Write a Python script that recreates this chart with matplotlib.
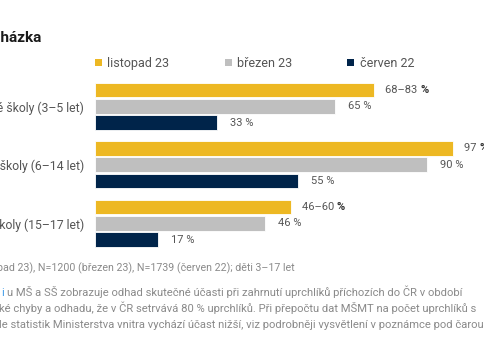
import matplotlib
matplotlib.use("Agg")
import matplotlib.pyplot as plt
import numpy as np
from matplotlib.patches import Patch

plt.rcParams["font.family"] = ["Roboto", "DejaVu Sans"]

# data
categories = ["Mateřské školy (3–5 let)", "Základní školy (6–14 let)", "Střední školy (15–17 let)"]
series = ["listopad 23", "březen 23", "červen 22"]
nov23 = [75.5, 97, 53]          # midpoint of range for the range labels
nov23_labels = ["68–83 ", "97 ", "46–60 "]
mar23 = [65, 90, 46]
jun22 = [33, 55, 17]
colors = ["#EDB823", "#BFBFBF", "#00244A"]

W, H = 485, 360
fig = plt.figure(figsize=(W / 100, H / 100), dpi=100)


def fx(px):
    return px / W


def fy(py):
    return 1 - py / H


# axes: x 0..100 -> 95.3 px .. 464.3 px ; y -0.5..2.5 -> 77 px .. 252.5 px
ax = fig.add_axes([fx(95.3), fy(252.55), 369 / W, 175.5 / H])
ax.set_xlim(0, 100)
ax.set_ylim(2.5, -0.5)
for s in ax.spines.values():
    s.set_visible(False)
ax.set_xticks([])

y = np.arange(len(categories))
off = 0.279
h = 0.25
text_col = "#555555"
for k, (vals, c) in enumerate(zip([nov23, mar23, jun22], colors)):
    yy = y + (k - 1) * off
    ax.barh(yy, vals, height=h, color=c, edgecolor="white", linewidth=0.6)
    for i, v in enumerate(vals):
        if k == 0:
            t = ax.annotate(nov23_labels[i], (v, yy[i]), xytext=(8, 0), textcoords="offset points",
                            va="center", ha="left", fontsize=8, color=text_col)
            ax.annotate("%", xy=(1, 0), xycoords=t, va="bottom", ha="left",
                        fontsize=8, color="#333333", fontweight="bold")
        else:
            ax.annotate(f"{v} %", (v, yy[i]), xytext=(9, 0), textcoords="offset points",
                        va="center", ha="left", fontsize=8, color=text_col)

ax.set_yticks(y)
ax.set_yticklabels(categories, fontsize=8.8, color=text_col)
ax.tick_params(axis="y", length=0, pad=8)

# title (cropped at left edge)
fig.text(fx(41), fy(38.5), "Docházka", ha="right", va="center", fontsize=11,
         fontweight="bold", color="#1a1a1a")

# legend
handles = [Patch(facecolor=c, edgecolor="none") for c in colors]
fig.legend(handles, series, loc="center left", bbox_to_anchor=(fx(95), fy(63.3)),
           ncol=3, frameon=False, fontsize=9, handlelength=0.55, handleheight=0.55,
           handletextpad=0.45, columnspacing=4.4, borderpad=0, borderaxespad=0,
           labelcolor=text_col)

# footer notes (cropped at both sides)
foot_col = "#8a8a8a"
fs = 8.1
fig.text(fx(-3), fy(271), "pad 23), N=1200 (březen 23), N=1739 (červen 22); děti 3–17 let",
         ha="left", va="baseline", fontsize=7.7, color=foot_col)
fig.text(fx(1), fy(296.5), "i", ha="left", va="baseline", fontsize=fs, color="#3d9be9")
fig.text(fx(7.5), fy(296.5),
         "u MŠ a SŠ zobrazuje odhad skutečné účasti při zahrnutí uprchlíků příchozích do ČR v období",
         ha="left", va="baseline", fontsize=fs, color=foot_col)
fig.text(fx(-1), fy(312),
         "ké chyby a odhadu, že v ČR setrvává 80 % uprchlíků. Při přepočtu dat MŠMT na počet uprchlíků s",
         ha="left", va="baseline", fontsize=fs, color=foot_col)
fig.text(fx(-1), fy(327.5),
         "le statistik Ministerstva vnitra vychází účast nižší, viz podrobněji vysvětlení v poznámce pod čarou",
         ha="left", va="baseline", fontsize=fs, color=foot_col)

fig.savefig("out.png", dpi=100)
